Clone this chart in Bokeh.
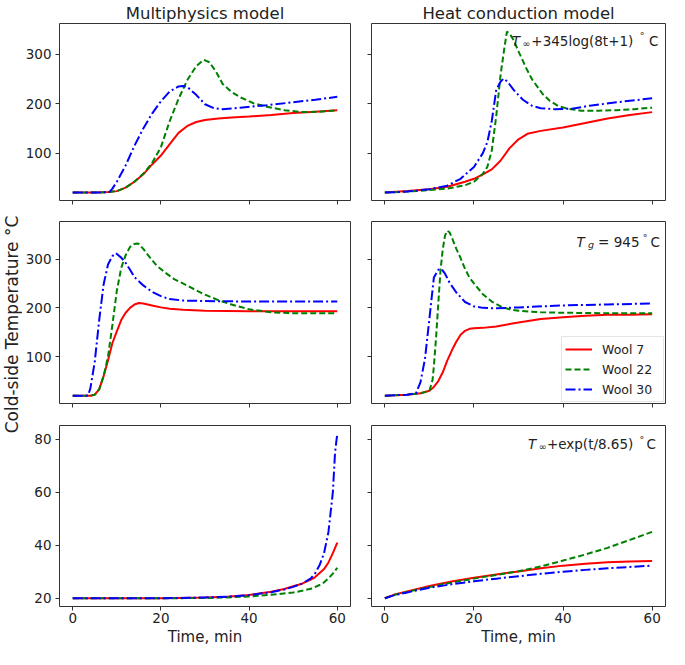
import math
from bokeh.plotting import figure
from bokeh.models import Range1d, FixedTicker, Label, Legend, LegendItem, CustomJSTickFormatter
from bokeh.layouts import gridplot, row
from bokeh.embed import file_html
from bokeh.resources import INLINE

# ------------------------------------------------------------------ data
time_ticks = [0, 20, 40, 60]
temp_ticks_upper = [100, 200, 300]
temp_ticks_lower = [20, 40, 60, 80]
series_names = ["Wool 7", "Wool 22", "Wool 30"]
col_titles = ["Multiphysics model", "Heat conduction model"]
y_title = "Cold-side Temperature \u00b0C"
x_title = "Time, min"

# Row 1 - Multiphysics
mp1_w7_t = [0, 5, 8, 10, 12, 14, 16, 18, 20, 22, 24, 26, 28, 30, 33, 36, 40, 45, 50, 55, 60]
mp1_w7_v = [20, 20, 21, 23, 30, 42, 57, 77, 95, 118, 141, 155, 163, 167, 170, 172, 174, 177, 181, 184, 187]
mp1_w22_t = [0, 5, 8, 10, 12, 14, 16, 18, 20, 22, 24, 26, 28, 29.7, 31, 32.5, 34, 36, 38, 41, 44, 48, 52, 56, 60]
mp1_w22_v = [20, 20, 21, 23, 30, 42, 58, 80, 112, 165, 210, 248, 276, 289, 284, 265, 240, 224, 213, 201, 194, 187, 183, 184, 187]
mp1_w30_t = [0, 5, 8.3, 9, 10, 12, 14, 16, 18, 20, 22, 24, 25, 26, 28, 30, 32, 34, 38, 44, 50, 55, 60]
mp1_w30_v = [20, 20, 21, 28, 42, 75, 115, 150, 180, 205, 225, 235, 236, 234, 218, 199, 191, 189, 192, 197, 203, 208, 214]

# Row 1 - Heat conduction
hc1_w7_t = [0, 5, 10, 14, 18, 20, 22, 24, 26, 28, 30, 32, 35, 40, 45, 50, 55, 60]
hc1_w7_v = [20, 23, 27, 32, 42, 48, 57, 67, 85, 110, 128, 139, 145, 152, 161, 170, 177, 183]
hc1_w22_t = [0, 5, 10, 14, 18, 20, 22, 23, 24, 25, 26, 26.7, 27.4, 28, 28.9, 30, 31.8, 33, 35.4, 37, 39, 41, 44, 48, 52, 56, 60]
hc1_w22_v = [20, 22, 25, 28, 35, 42, 58, 72, 105, 175, 260, 305, 346, 342, 329, 306, 271, 250, 220, 206, 195, 190, 186, 186, 187, 189, 192]
hc1_w30_t = [0, 5, 10, 14, 17, 20, 22, 23, 24, 25, 26, 26.7, 27.5, 29, 31, 33, 35, 38, 42, 46, 52, 60]
hc1_w30_v = [20, 22, 27, 34, 48, 72, 100, 122, 165, 228, 245, 251, 245, 227, 208, 196, 191, 189, 190, 196, 203, 211]

# Row 2 - Multiphysics
mp2_w7_t = [0, 4, 5, 6, 7, 8, 9, 10, 11, 12, 13, 14, 15, 16, 18, 20, 22, 25, 30, 40, 50, 60]
mp2_w7_v = [20, 20, 22, 33, 60, 92, 128, 152, 175, 190, 200, 207, 210, 209, 205, 201, 198, 196, 194, 193, 193, 193]
mp2_w22_t = [0, 4, 5, 6, 7, 8, 9, 10, 11, 12, 13, 14, 14.6, 15, 16, 17, 19, 21, 23, 25, 28, 30, 33, 36, 40, 45, 50, 60]
mp2_w22_v = [20, 20, 22, 33, 60, 100, 165, 235, 282, 308, 325, 331, 332, 331, 321, 309, 287, 272, 259, 250, 236, 227, 216, 207, 197, 191, 189, 189]
mp2_w30_t = [0, 3, 3.5, 4, 5, 6, 7, 8, 9, 9.8, 11, 12, 13, 14, 16, 18, 20, 22, 25, 30, 40, 50, 60]
mp2_w30_v = [20, 20, 21, 35, 90, 175, 248, 289, 306, 312, 303, 292, 278, 263, 246, 233, 224, 218, 215, 214, 213, 213, 213]

# Row 2 - Heat conduction
hc2_w7_t = [0, 5, 8, 10, 11, 12, 13, 14, 15, 16, 17, 18, 19, 20, 22, 25, 30, 35, 40, 45, 50, 55, 60]
hc2_w7_v = [20, 22, 25, 30, 38, 50, 68, 92, 112, 130, 145, 153, 157, 158, 159, 162, 170, 177, 181, 184, 186, 186, 187]
hc2_w22_t = [0, 5, 8, 10, 10.7, 11, 11.5, 12, 12.5, 13, 13.5, 14, 14.5, 15, 16, 17, 18, 19, 20, 22, 24, 26, 28, 30, 35, 40, 50, 60]
hc2_w22_v = [20, 22, 25, 30, 52, 80, 140, 210, 278, 320, 348, 358, 355, 345, 322, 302, 280, 262, 250, 228, 213, 203, 197, 194, 191, 190, 189, 189]
hc2_w30_t = [0, 5, 7, 8, 9, 10, 11, 12, 12.7, 13.5, 14.5, 16, 17, 18, 20, 22, 25, 30, 40, 50, 60]
hc2_w30_v = [20, 22, 25, 48, 95, 178, 262, 278, 280, 270, 252, 232, 222, 212, 203, 200, 199, 201, 205, 207, 209]

# Row 3 - Multiphysics
mp3_w7_t = [0, 20, 30, 35, 40, 45, 48, 50, 52, 54, 55, 56, 57, 58, 59, 60]
mp3_w7_v = [20, 20, 20.3, 20.6, 21.2, 22.5, 23.5, 24.5, 25.5, 27, 28, 29.5, 31, 33.5, 37, 41]
mp3_w22_t = [0, 20, 30, 35, 40, 45, 50, 52, 54, 56, 57, 58, 59, 60]
mp3_w22_v = [20, 20, 20.1, 20.3, 20.7, 21.3, 22.2, 22.8, 23.6, 25, 26, 27.5, 29.3, 31.5]
mp3_w30_t = [0, 20, 30, 35, 40, 45, 48, 50, 52, 54, 55, 56, 57, 58, 59, 59.5, 60]
mp3_w30_v = [20, 20, 20.3, 20.6, 21.2, 22.3, 23.3, 24.3, 25.5, 27.5, 29.5, 32.5, 37, 45, 60, 75, 82]

# Row 3 - Heat conduction
hc3_t = [0, 2, 5, 10, 15, 20, 25, 30, 35, 40, 45, 50, 55, 60]
hc3_w7_v = [20, 21.3, 22.6, 24.6, 26.3, 27.7, 29, 30.1, 31.3, 32.3, 33, 33.6, 33.9, 34]
hc3_w22_v = [20, 21.2, 22.4, 24.2, 25.9, 27.4, 28.8, 30.2, 32, 34.2, 36.5, 39, 42, 45]
hc3_w30_v = [20, 21.1, 22.2, 24, 25.3, 26.4, 27.4, 28.3, 29.2, 30, 30.7, 31.3, 31.8, 32.3]

# ------------------------------------------------------------------ style / layout
FONT = "DejaVu Sans"
INK = "#222222"
FRAME = "#333333"
LINE_STYLES = [("#ff0000", "solid"), ("#008000", "6 3"), ("#0000ff", "10 3 2 3")]
LABEL_W = 22                      # strip holding the shared y title
COL_W = [361 - LABEL_W, 308]
ROW_H = [211, 203, 234]
TOTAL_H = sum(ROW_H)
BORDER_LR = [(56 - LABEL_W, 11), (10, 4)]
BORDER_TB = [(18, 11), (10, 11), (11, 41)]
X_RANGE = (-3, 63)
Y_RANGES = [(4, 362.5), (4, 377), (16.9, 85.1)]

panels = [
    [[(mp1_w7_t, mp1_w7_v), (mp1_w22_t, mp1_w22_v), (mp1_w30_t, mp1_w30_v)],
     [(hc1_w7_t, hc1_w7_v), (hc1_w22_t, hc1_w22_v), (hc1_w30_t, hc1_w30_v)]],
    [[(mp2_w7_t, mp2_w7_v), (mp2_w22_t, mp2_w22_v), (mp2_w30_t, mp2_w30_v)],
     [(hc2_w7_t, hc2_w7_v), (hc2_w22_t, hc2_w22_v), (hc2_w30_t, hc2_w30_v)]],
    [[(mp3_w7_t, mp3_w7_v), (mp3_w22_t, mp3_w22_v), (mp3_w30_t, mp3_w30_v)],
     [(hc3_t, hc3_w7_v), (hc3_t, hc3_w22_v), (hc3_t, hc3_w30_v)]],
]

# annotation pieces: (text, frac_x, frac_y, size, style)  -- fractions of the panel frame
MAIN = "13.5px"
SMALL = "9.5px"
annotations = [
    [("T", 0.4768, 0.9037, MAIN, "italic"), ("\u221e", 0.5132, 0.8877, SMALL, "normal"),
     ("+345log(8t+1)", 0.5437, 0.9037, MAIN, "normal"), ("\u00b0", 0.9123, 0.9305, SMALL, "normal"),
     ("C", 0.944, 0.9037, MAIN, "normal")],
    [("T", 0.6977, 0.8877, MAIN, "italic"), ("g", 0.7361, 0.8717, SMALL, "italic"),
     ("=", 0.770, 0.8877, MAIN, "normal"), ("945", 0.8238, 0.8877, MAIN, "normal"),
     ("\u00b0", 0.9222, 0.9144, SMALL, "normal"), ("C", 0.9493, 0.8877, MAIN, "normal")],
    [("T", 0.5321, 0.8984, MAIN, "italic"), ("\u221e", 0.5685, 0.8824, SMALL, "normal"),
     ("+exp(t/8.65)", 0.5967, 0.8984, MAIN, "normal"), ("\u00b0", 0.9113, 0.9251, SMALL, "normal"),
     ("C", 0.9351, 0.8984, MAIN, "normal")],
]

# y title: rotated; centre inside the label strip, centre y measured from the top
Y_TITLE_X = 11
Y_TITLE_Y = 324


def hide_labels(ax):
    ax.formatter = CustomJSTickFormatter(code="return '';")
    ax.major_label_text_font_size = "0px"
    ax.major_label_standoff = 0


# strip with the shared y title (its frame is the whole canvas, 1 unit = 1 px)
strip = figure(width=LABEL_W, height=TOTAL_H, x_range=Range1d(0, LABEL_W), y_range=Range1d(0, TOTAL_H),
               output_backend="svg", toolbar_location=None, title=None,
               x_axis_location=None, y_axis_location=None,
               min_border_left=0, min_border_right=0, min_border_top=0, min_border_bottom=0)
strip.grid.visible = False
strip.outline_line_color = None
strip.add_layout(Label(x=Y_TITLE_X, y=TOTAL_H - Y_TITLE_Y, text=y_title, angle=math.pi / 2,
                       text_font=FONT, text_font_size="17px", text_color=INK,
                       text_align="center", text_baseline="middle"))

grid = []
for r in range(3):
    row_figs = []
    for c in range(2):
        left, right = BORDER_LR[c]
        top, bottom = BORDER_TB[r]
        title = col_titles[c] if r == 0 else None
        p = figure(width=COL_W[c], height=ROW_H[r], title=title,
                   x_range=Range1d(*X_RANGE), y_range=Range1d(*Y_RANGES[r]),
                   output_backend="svg", toolbar_location=None,
                   min_border_left=left, min_border_right=right,
                   min_border_top=top, min_border_bottom=bottom)
        if r == 0:
            p.title.align = "center"
            p.title.text_font = FONT
            p.title.text_font_size = "16.5px"
            p.title.text_font_style = "normal"
            p.title.text_color = INK
            p.title.standoff = 2
        p.grid.visible = False
        p.outline_line_color = FRAME
        p.outline_line_width = 1
        for ax in (p.xaxis[0], p.yaxis[0]):
            ax.axis_line_color = None
            ax.major_tick_out = 4
            ax.major_tick_in = 0
            ax.major_tick_line_color = FRAME
            ax.minor_tick_line_color = None
            ax.major_label_text_font = FONT
            ax.major_label_text_font_size = "13.5px"
            ax.major_label_text_color = INK
            ax.major_label_standoff = 4
        p.xaxis[0].ticker = FixedTicker(ticks=time_ticks)
        p.yaxis[0].ticker = FixedTicker(ticks=temp_ticks_lower if r == 2 else temp_ticks_upper)
        if r < 2:
            hide_labels(p.xaxis[0])
        else:
            p.xaxis[0].major_label_standoff = 2
            p.xaxis[0].axis_label = x_title
            p.xaxis[0].axis_label_text_font = FONT
            p.xaxis[0].axis_label_text_font_size = "15px"
            p.xaxis[0].axis_label_text_font_style = "normal"
            p.xaxis[0].axis_label_text_color = INK
            p.xaxis[0].axis_label_standoff = 2
        if c == 1:
            hide_labels(p.yaxis[0])

        renderers = []
        for (t, v), (col, dash) in zip(panels[r][c], LINE_STYLES):
            renderers.append(p.line(t, v, line_color=col, line_width=2, line_dash=dash))

        if c == 1:
            x0, x1 = X_RANGE
            y0, y1 = Y_RANGES[r]
            for text, fx, fy, size, style in annotations[r]:
                p.add_layout(Label(x=x0 + fx * (x1 - x0), y=y0 + fy * (y1 - y0), text=text,
                                   text_font=FONT, text_font_size=size, text_font_style=style,
                                   text_color=INK, text_align="left", text_baseline="alphabetic"))
        if r == 1 and c == 1:
            legend = Legend(items=[LegendItem(label=n, renderers=[rr]) for n, rr in zip(series_names, renderers)],
                            location="bottom_right", margin=1, padding=3, spacing=2,
                            glyph_width=27, glyph_height=18, label_height=18, label_width=58,
                            label_standoff=10, label_text_font=FONT, label_text_font_size="12.5px",
                            label_text_color=INK, border_line_color="#cccccc",
                            background_fill_color="white", background_fill_alpha=0.8)
            p.add_layout(legend)
        row_figs.append(p)
    grid.append(row_figs)

panel_grid = gridplot(grid, toolbar_location=None)
layout = row(strip, panel_grid)

open("out.html", "w").write(file_html(layout, INLINE))
